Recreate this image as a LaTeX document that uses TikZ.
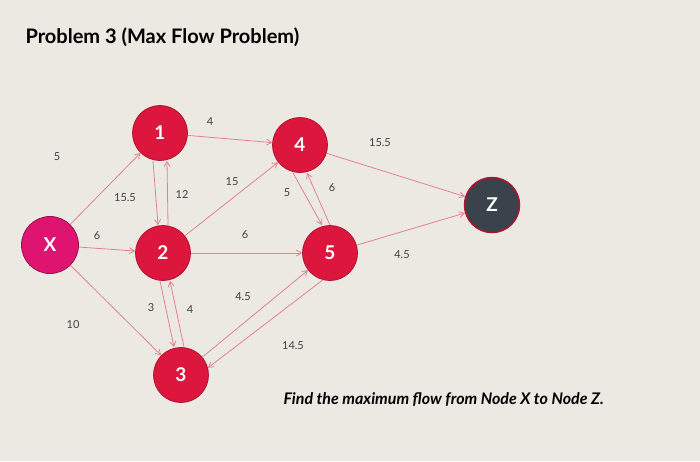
\documentclass[tikz,border=0pt]{standalone}
\usepackage{fontspec}
\setmainfont{Lato}
\usetikzlibrary{arrows.meta}
\definecolor{bg}{RGB}{236,233,227}
\definecolor{nred}{RGB}{220,22,60}
\definecolor{nmag}{RGB}{222,20,112}
\definecolor{nz}{RGB}{58,66,76}
\definecolor{edge}{RGB}{226,130,142}
\begin{document}
\begin{tikzpicture}[x=1pt,y=-1pt,
  nd/.style={circle,fill=nred,draw=nred!80!black,line width=0.8pt,minimum size=55pt,inner sep=0pt,text=white,font=\bfseries\fontsize{19}{19}\selectfont},
  ed/.style={draw=edge,line width=0.8pt,-{Straight Barb[length=5pt,width=6pt]}},
  lb/.style={font=\fontsize{11}{11}\selectfont,text=black!75}]
\fill[bg] (0,0) rectangle (700,461);
\useasboundingbox (0,0) rectangle (700,461);
\node[anchor=west,font=\bfseries\fontsize{20}{20}\selectfont] (title) at (22,37) {Problem 3 (Max Flow Problem)};
\node[nd,fill=nmag,draw=nmag!70!black,minimum size=57pt] (X) at (50,245) {X};
\node[nd] (n1) at (160,133) {1};
\node[nd] (n4) at (300,145) {4};
\node[nd] (n2) at (163,253) {2};
\node[nd] (n5) at (330,253) {5};
\node[nd] (n3) at (181,375) {3};
\node[nd,fill=nz,draw=nred!80!black,line width=1.5pt] (Z) at (492,205) {Z};
\draw[ed] (X) -- (n1);
\draw[ed] (X) -- (n2);
\draw[ed] (X) -- (n3);
\draw[ed] ([xshift=-7pt]n1.south) -- ([xshift=-5pt]n2.north);
\draw[ed] ([xshift=5pt]n2.north) -- ([xshift=7pt]n1.south);
\draw[ed] (n1) -- (n4);
\draw[ed] (n2) -- (n4);
\draw[ed] (n2) -- (n5);
\draw[ed] ([xshift=-3pt]n2.south) -- ([xshift=-7pt]n3.north);
\draw[ed] ([xshift=3pt]n3.north) -- ([xshift=7pt]n2.south);
\draw[ed] ([xshift=-7pt]n4.south) -- ([xshift=-8pt]n5.north);
\draw[ed] ([xshift=0pt]n5.north) -- ([xshift=7pt]n4.south);
\draw[ed] (n3.40) -- (n5.218);
\draw[ed] (n5.255) -- (n3.15);
\draw[ed] (n4) -- (Z);
\draw[ed] (n5) -- (Z);
\node[lb] (l1) at (57,157) {5};
\node[lb] (l2) at (125,198) {15.5};
\node[lb] (l3) at (182,195) {12};
\node[lb] (l4) at (97,236) {6};
\node[lb] (l5) at (73,325) {10};
\node[lb] (l6) at (210,122) {4};
\node[lb] (l7) at (232,182) {15};
\node[lb] (l8) at (245,235) {6};
\node[lb] (l9) at (151,308) {3};
\node[lb] (l10) at (190,310) {4};
\node[lb] (l11) at (243,297) {4.5};
\node[lb] (l12) at (287,193) {5};
\node[lb] (l13) at (332,188) {6};
\node[lb] (l14) at (380,143) {15.5};
\node[lb] (l15) at (402,255) {4.5};
\node[lb] (l16) at (293,346) {14.5};
\node[anchor=west,font=\bfseries\itshape\fontsize{16}{16}\selectfont] (find) at (280,400) {Find the maximum flow from Node X to Node Z.};
\end{tikzpicture}
\end{document}
